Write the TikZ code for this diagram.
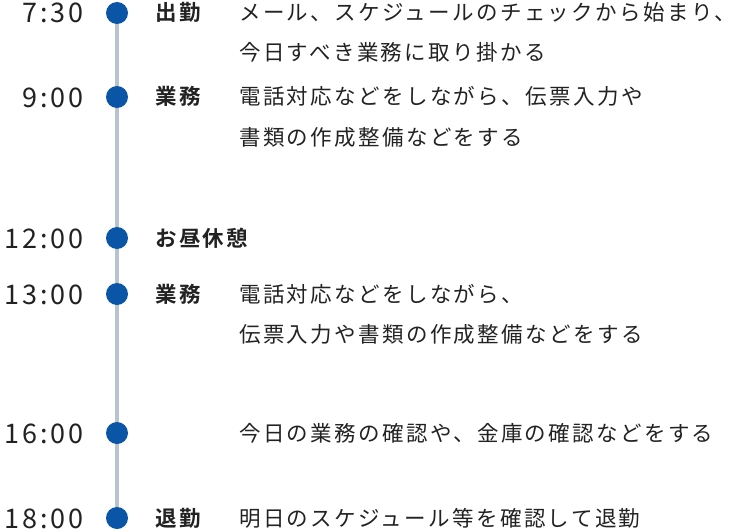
\documentclass[tikz,border=0pt]{standalone}
\usepackage{fontspec}
\setmainfont{Noto Sans CJK JP}[LetterSpace=11]
\newfontfamily\jpbold{Noto Sans CJK JP Bold}[LetterSpace=11]
\definecolor{dotblue}{RGB}{10,85,165}
\definecolor{railgray}{RGB}{185,195,205}
\definecolor{inkgray}{RGB}{34,34,34}
\tikzset{
  timelbl/.style={anchor=base east,inner sep=0pt,text=inkgray,font=\fontsize{27}{27}\selectfont},
  tasklbl/.style={anchor=base west,inner sep=0pt,text=inkgray,font=\jpbold\fontsize{21.5}{40}\selectfont},
  desclbl/.style={anchor=base west,inner sep=0pt,text=inkgray,align=left,font=\fontsize{21.5}{40}\selectfont},
  dotmark/.style={circle,fill=dotblue,minimum size=22pt,inner sep=0pt}
}
\begin{document}
\begin{tikzpicture}[x=1pt,y=-1pt]
\useasboundingbox (0,0) rectangle (738,532);
\coordinate (p1) at (117,13); \coordinate (p2) at (117,97); \coordinate (p3) at (117,238);
\coordinate (p4) at (117,294); \coordinate (p5) at (117,433); \coordinate (p6) at (117,518);
\draw[railgray,line width=4pt] (p1)--(p6);
\node[dotmark] (d1) at (p1) {}; \node[dotmark] (d2) at (p2) {}; \node[dotmark] (d3) at (p3) {};
\node[dotmark] (d4) at (p4) {}; \node[dotmark] (d5) at (p5) {}; \node[dotmark] (d6) at (p6) {};
% times
\node[timelbl] (t1) at (84,23) {7:30};
\node[timelbl] (t2) at (84,107) {9:00};
\node[timelbl] (t3) at (84,248) {12:00};
\node[timelbl] (t4) at (84,304) {13:00};
\node[timelbl] (t5) at (84,443) {16:00};
\node[timelbl] (t6) at (84,528) {18:00};
% tasks
\node[tasklbl] (k1) at (155,21) {出勤};
\node[tasklbl] (k2) at (155,105) {業務};
\node[tasklbl] (k3) at (155,246) {お昼休憩};
\node[tasklbl] (k4) at (155,302) {業務};
\node[tasklbl] (k6) at (155,526) {退勤};
% notes (base = last line)
\node[desclbl] (n1) at (239,61) {メール、スケジュールのチェックから始まり、\\今日すべき業務に取り掛かる};
\node[desclbl] (n2) at (239,145) {電話対応などをしながら、伝票入力や\\書類の作成整備などをする};
\node[desclbl] (n4) at (239,342) {電話対応などをしながら、\\伝票入力や書類の作成整備などをする};
\node[desclbl] (n5) at (239,441) {今日の業務の確認や、金庫の確認などをする};
\node[desclbl] (n6) at (239,526) {明日のスケジュール等を確認して退勤};
\end{tikzpicture}
\end{document}
